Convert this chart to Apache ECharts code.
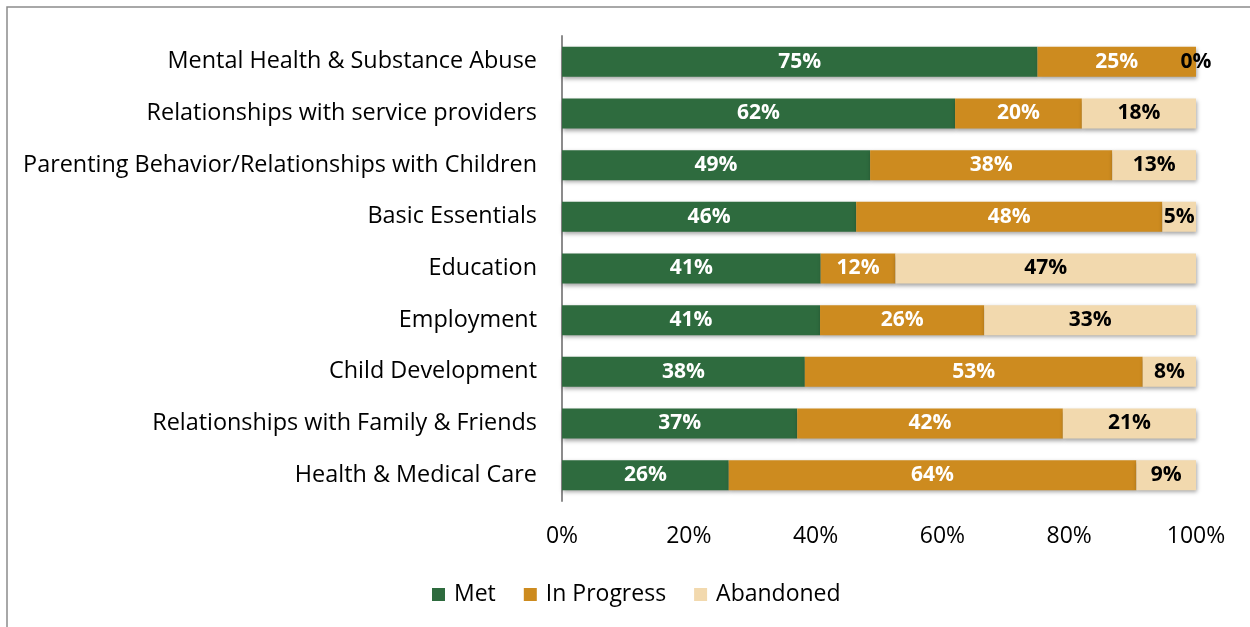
<!DOCTYPE html>
<html>
<head>
<meta charset="utf-8">
<script src="https://cdn.jsdelivr.net/npm/echarts@6/dist/echarts.min.js"></script>
<style>
  html, body { margin: 0; padding: 0; background: #fff; }
  #chart { width: 1250px; height: 627px; }
</style>
</head>
<body>
<div id="chart"></div>
<script>
// Goal areas, listed bottom-to-top as the category axis draws them
const categories = [
  'Health & Medical Care',
  'Relationships with Family & Friends',
  'Child Development',
  'Employment',
  'Education',
  'Basic Essentials',
  'Parenting Behavior/Relationships with Children',
  'Relationships with service providers',
  'Mental Health & Substance Abuse'
];
// Share of goals (percent) per status; labels show these rounded
const met        = [26.3, 37.1, 38.3, 40.7, 40.8, 46.4, 48.6, 62.0, 75.0];
const inProgress = [64.3, 41.9, 53.3, 25.9, 11.8, 48.3, 38.2, 20.0, 25.0];
const abandoned  = [9.4, 21.0, 8.4, 33.4, 47.4, 5.3, 13.2, 18.0, 0];
const xTicks = [0, 20, 40, 60, 80, 100];

const FONT = '"Open Sans", "Noto Sans", sans-serif';
const colors = { met: '#2E6B3E', prog: '#CD8B1F', aband: '#F2D9AE' };

const barShadow = {
  shadowBlur: 4,
  shadowColor: 'rgba(0,0,0,0.35)',
  shadowOffsetX: 1,
  shadowOffsetY: 2
};

function makeSeries(name, data, color, labelColor) {
  return {
    name: name,
    type: 'bar',
    stack: 'total',
    data: data,
    barWidth: 30,
    itemStyle: Object.assign({ color: color }, barShadow),
    label: {
      show: true,
      position: 'inside',
      formatter: p => Math.round(p.value) + '%',
      color: labelColor,
      fontFamily: FONT,
      fontWeight: 'bold',
      fontSize: 21
    },
    emphasis: { disabled: true }
  };
}

const chart = echarts.init(document.getElementById('chart'), null, { renderer: 'canvas' });
chart.setOption({
  animation: false,
  backgroundColor: '#fff',
  textStyle: { fontFamily: FONT },
  graphic: [{
    type: 'rect',
    shape: { x: 7, y: 7, width: 1300, height: 700 },
    style: { fill: 'none', stroke: '#8c8c8c', lineWidth: 1.5 },
    silent: true,
    z: -1
  }],
  grid: { left: 562, right: 54, top: 36, bottom: 126, containLabel: false },
  xAxis: {
    type: 'value',
    min: xTicks[0],
    max: xTicks[xTicks.length - 1],
    interval: xTicks[1] - xTicks[0],
    axisLine: { show: false },
    axisTick: { show: false },
    splitLine: { show: false },
    axisLabel: {
      formatter: v => v + '%',
      color: '#000',
      fontSize: 23,
      fontFamily: FONT,
      margin: 24
    }
  },
  yAxis: {
    type: 'category',
    data: categories,
    axisLine: { show: true, lineStyle: { color: '#8c8c8c', width: 2 } },
    axisTick: { show: false },
    axisLabel: {
      color: '#000',
      fontSize: 23.4,
      fontFamily: FONT,
      margin: 25
    }
  },
  legend: {
    bottom: 16,
    left: 427,
    itemWidth: 13,
    itemHeight: 13,
    itemGap: 28,
    icon: 'rect',
    textStyle: { color: '#000', fontSize: 23, fontFamily: FONT, padding: [0, 0, 0, 4] },
    data: ['Met', 'In Progress', 'Abandoned']
  },
  series: [
    makeSeries('Met', met, colors.met, '#fff'),
    makeSeries('In Progress', inProgress, colors.prog, '#fff'),
    makeSeries('Abandoned', abandoned, colors.aband, '#000')
  ]
});
</script>
</body>
</html>
